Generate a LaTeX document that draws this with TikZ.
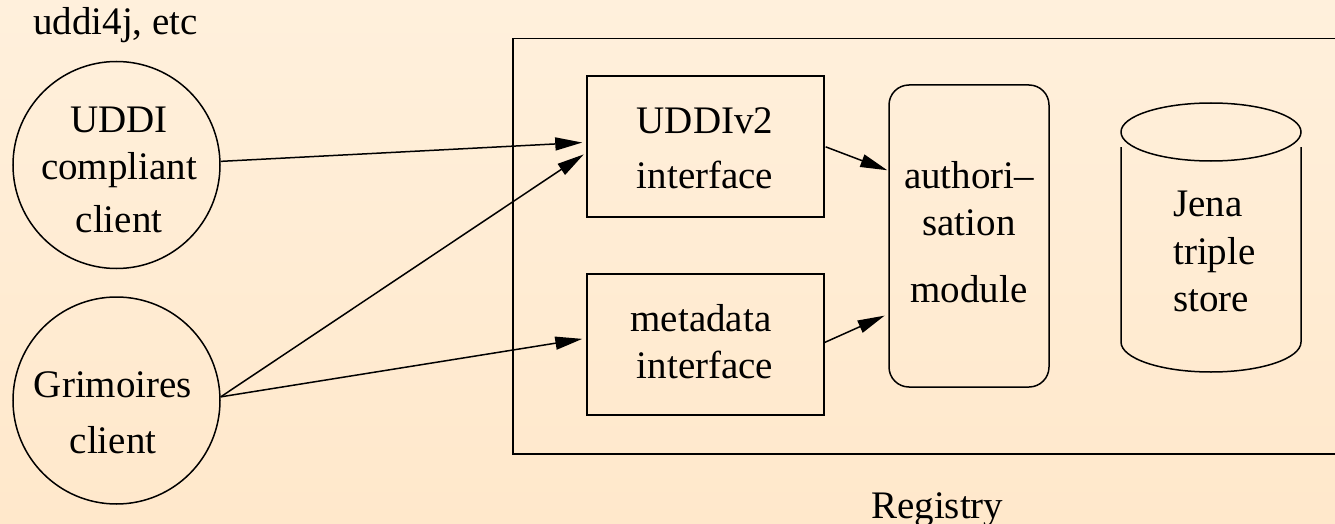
\documentclass[tikz,border=0pt]{standalone}
\usepackage{fontspec}
\setmainfont{Liberation Serif}
\usetikzlibrary{arrows.meta,shapes.geometric}
\definecolor{bgtop}{RGB}{255,240,220}
\definecolor{bgbot}{RGB}{255,232,203}
\tikzset{
  base/.style={line width=1.5pt, draw=black},
  client/.style={base, circle, minimum size=207pt, inner sep=0pt},
  iface/.style={base, rectangle, minimum width=237pt, minimum height=141pt, inner sep=0pt},
  lbl/.style={align=center, inner sep=0pt, font=\fontsize{39pt}{47pt}\selectfont},
  arr/.style={line width=1.5pt, -{Triangle[length=27pt,width=13pt]}},
}
\begin{document}
\begin{tikzpicture}[x=1pt,y=-1pt]
\useasboundingbox (0,0) rectangle (1335,524);
\clip (0,0) rectangle (1335,524);
\shade[top color=bgtop, bottom color=bgbot] (0,0) rectangle (1335,524);

% registry container
\node[base, rectangle, anchor=north west, minimum width=840pt, minimum height=415pt, inner sep=0pt] (reg) at (512,38) {};
\node[lbl, anchor=base west] (regl) at (871,518) {Registry};

% clients
\node[lbl, anchor=base] (etc) at (115.5,35) {uddi4j, etc};
\node[client] (uddi) at (116.5,165) {};
\node[lbl, anchor=north] (uddil) at (119,107) {UDDI\\compliant\\[6pt]client};
\node[client] (grim) at (116.5,400.5) {};
\node[lbl, anchor=north] (griml) at (113,371) {Grimoires\\[9pt]client};

% interfaces
\node[iface] (v2) at (705.5,146.5) {};
\node[lbl, anchor=north] (v2l) at (705,107) {UDDIv2\\[8pt]interface};
\node[iface] (meta) at (705.5,344.5) {};
\node[lbl, anchor=north] (metal) at (701,304) {metadata\\\hspace*{8pt}interface};

% authorisation module
\node[base, rectangle, rounded corners=20pt, minimum width=160pt, minimum height=302pt, inner sep=0pt] (auth) at (969,236) {};
\node[lbl, anchor=north] (authl) at (969,161) {authori\textendash\\sation\\[20pt]module};

% Jena store (cylinder)
\draw[base] (1211,132) ellipse [x radius=90pt, y radius=29pt];
\draw[base] (1121,147) -- (1121,342) arc[start angle=180, end angle=360, x radius=90pt, y radius=30pt] -- (1301,147);
\coordinate (jenac) at (1211,240);
\node[lbl, align=left, anchor=north west, font=\fontsize{39pt}{47.5pt}\selectfont] (jenal) at (1173,191) {Jena\\triple\\store};

% connectors
\draw[arr, shorten >=4pt] (uddi.2.8) -- (v2.178.3);
\draw[arr, shorten >=3pt] (grim.2.5) -- (v2.183.6);
\draw[arr, shorten >=4pt] (grim.2.5) -- (meta.177.8);
\draw[arr, shorten <=1pt, shorten >=1pt] (v2.0) -- (auth.141.8);
\draw[arr, shorten >=4pt] (meta.1.7) -- (auth.224.3);
\end{tikzpicture}
\end{document}
